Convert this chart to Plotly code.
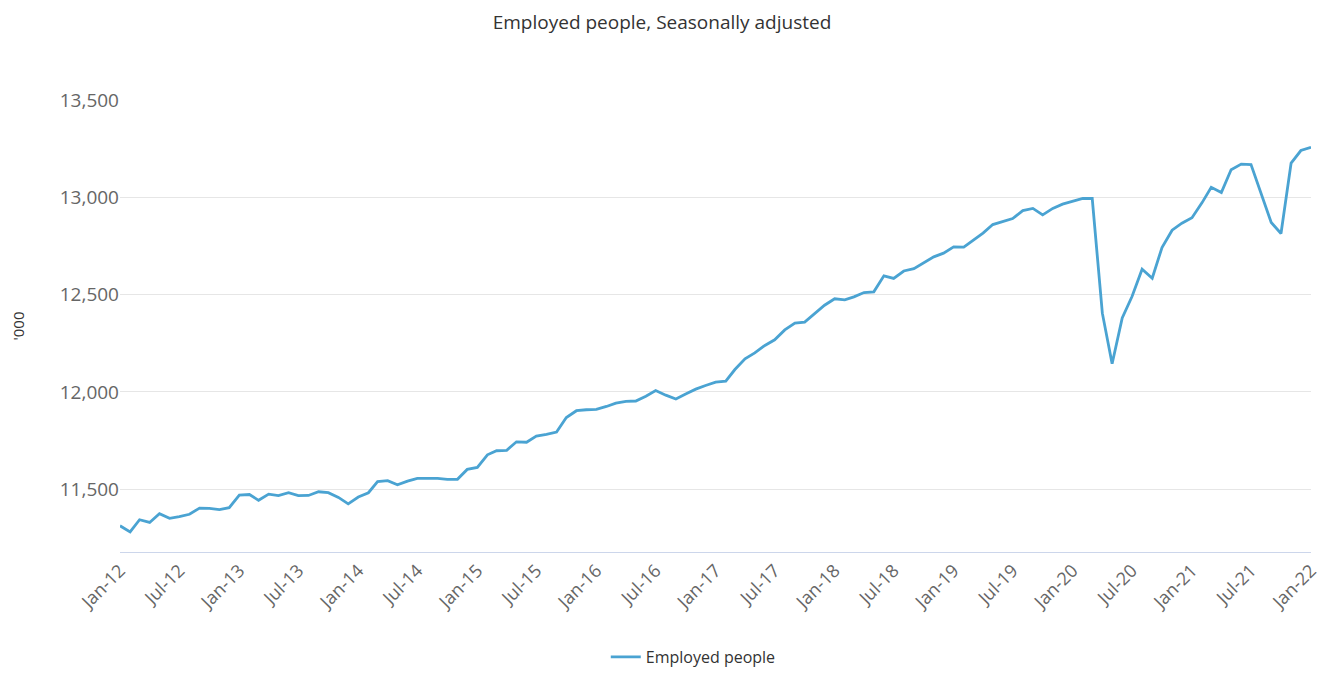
import plotly.graph_objects as go
import pandas as pd

months = pd.date_range("2012-01-01", "2022-01-01", freq="MS")

employed = [
    11311, 11279, 11342, 11328, 11373, 11349, 11358, 11370, 11402, 11400, 11394, 11404,  # 2012
    11469, 11472, 11442, 11474, 11466, 11481, 11466, 11467, 11486, 11481, 11457, 11424,  # 2013
    11459, 11481, 11538, 11543, 11522, 11541, 11555, 11556, 11555, 11550, 11550, 11601,  # 2014
    11611, 11676, 11697, 11699, 11743, 11741, 11772, 11781, 11793, 11868, 11903, 11908,  # 2015
    11910, 11925, 11942, 11951, 11953, 11978, 12007, 11983, 11963, 11989, 12014, 12033,  # 2016
    12050, 12055, 12115, 12170, 12201, 12239, 12268, 12319, 12354, 12359, 12405, 12446,  # 2017
    12479, 12474, 12489, 12511, 12515, 12597, 12584, 12622, 12634, 12666, 12695, 12714,  # 2018
    12746, 12745, 12777, 12817, 12861, 12875, 12892, 12933, 12944, 12911, 12944, 12966,  # 2019
    12980, 12995, 12995, 12405, 12145, 12380, 12491, 12631, 12585, 12743, 12832, 12868,  # 2020
    12896, 12974, 13053, 13026, 13143, 13172, 13170, 13022, 12872, 12815, 13177, 13242,  # 2021
    13259,                                                                                # 2022
]

y_ticks = [11500, 12000, 12500, 13000, 13500]

fig = go.Figure()
fig.add_trace(go.Scatter(
    x=months, y=employed, mode="lines", name="Employed people",
    line=dict(color="#4aa3d2", width=2.8),
))

FONT = "Open Sans, Noto Sans, sans-serif"
W, H = 1313, 660
fig.update_layout(
    width=W, height=H,
    paper_bgcolor="white", plot_bgcolor="white",
    margin=dict(l=112, r=10, t=92, b=116),
    font=dict(family=FONT, color="#666666", size=16),
    title=dict(text="Employed people, Seasonally adjusted", x=(662 - 8) / W, xanchor="center",
               y=1 - 14 / H, yanchor="middle", font=dict(size=19, color="#333333")),
    showlegend=True,
    legend=dict(orientation="h", x=(640 - 8) / W, xanchor="center", yref="container", y=11 / H,
                yanchor="middle", font=dict(size=16, color="#333333"), itemwidth=30),
)
fig.update_xaxes(
    range=[months[0], months[-1]], tickformat="%b-%y", dtick="M6", tick0="2012-01-01",
    tickangle=-45, showgrid=False, showline=True, linecolor="#ccd6eb", linewidth=1,
    ticks="", tickfont=dict(size=18, color="#666666"), zeroline=False, automargin=False,
    ticklabeloverflow="allow",
)
fig.update_yaxes(
    range=[11176, 13502], tickvals=y_ticks, tickformat=",", showgrid=True,
    gridcolor="#e6e6e6", gridwidth=1, zeroline=False, showline=False, ticks="",
    tickfont=dict(size=19, color="#666666"), automargin=False,
    title=dict(text="'000", font=dict(size=15, color="#333333"), standoff=62),
)

fig.write_html("out.html")
